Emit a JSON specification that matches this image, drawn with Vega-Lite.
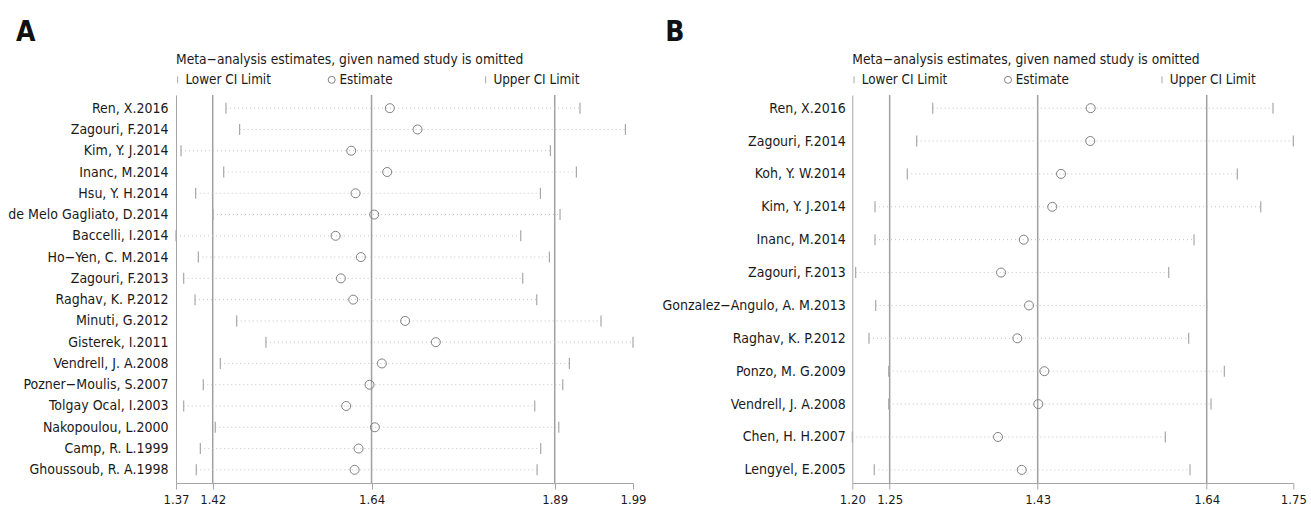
{
  "$schema": "https://vega.github.io/schema/vega-lite/v6.json",
  "background": "white",
  "padding": {"left": 7, "top": 19, "right": 5, "bottom": 0},
  "bounds": "flush",
  "spacing": 219.3,
  "config": {
    "view": {"stroke": null},
    "font": "DejaVu Sans Condensed, Liberation Sans, sans-serif",
    "axis": {"grid": false, "domainColor": "#a6a6a6", "tickColor": "#a6a6a6", "labelColor": "#1a1a1a", "labelFont": "DejaVu Sans Condensed, Liberation Sans, sans-serif", "title": null},
    "axisX": {"tickSize": 6, "labelPadding": 4, "labelFontSize": 13, "labelDx": 4, "labelFlush": false, "labelOverlap": false, "format": ".2f"},
    "axisY": {"ticks": false, "tickSize": 0, "labelFontSize": 14, "labelLimit": 400, "minExtent": 161, "maxExtent": 161},
    "title": {"fontSize": 28, "fontWeight": "bold", "anchor": "start", "frame": "group", "color": "#111111", "offset": 6, "font": "DejaVu Sans Condensed, Liberation Sans, sans-serif"},
    "legend": {"orient": "top", "direction": "horizontal", "columns": 3, "gridAlign": "all", "columnPadding": 54, "titleFontSize": 13.7, "titleFontWeight": "normal", "titleColor": "#1a1a1a", "titlePadding": 6, "labelFontSize": 13.4, "labelColor": "#1a1a1a", "labelOffset": 1, "symbolOffset": -5, "symbolSize": 49, "symbolStrokeWidth": 1, "offset": 8, "padding": 0, "titleAnchor": "start", "titleLimit": 700, "labelFont": "DejaVu Sans Condensed, Liberation Sans, sans-serif", "titleFont": "DejaVu Sans Condensed, Liberation Sans, sans-serif"}
  },
  "resolve": {"scale": {"shape": "independent", "color": "independent"}, "legend": {"shape": "independent", "color": "independent"}},
  "hconcat": [
    {
      "title": {"text": "A", "dx": -160},
      "width": 457,
      "height": 388,
      "data": {"values": [
        {"study": "Ren, X.2016", "Lower CI Limit": 1.4378, "Estimate": 1.6601, "Upper CI Limit": 1.9181},
        {"study": "Zagouri, F.2014", "Lower CI Limit": 1.4563, "Estimate": 1.6977, "Upper CI Limit": 1.9797},
        {"study": "Kim, Y. J.2014", "Lower CI Limit": 1.3768, "Estimate": 1.6077, "Upper CI Limit": 1.878},
        {"study": "Inanc, M.2014", "Lower CI Limit": 1.4347, "Estimate": 1.6565, "Upper CI Limit": 1.9132},
        {"study": "Hsu, Y. H.2014", "Lower CI Limit": 1.3967, "Estimate": 1.6136, "Upper CI Limit": 1.8644},
        {"study": "de Melo Gagliato, D.2014", "Lower CI Limit": 1.4202, "Estimate": 1.6389, "Upper CI Limit": 1.891},
        {"study": "Baccelli, I.2014", "Lower CI Limit": 1.37, "Estimate": 1.5865, "Upper CI Limit": 1.8377},
        {"study": "Ho−Yen, C. M.2014", "Lower CI Limit": 1.4003, "Estimate": 1.6208, "Upper CI Limit": 1.8766},
        {"study": "Zagouri, F.2013", "Lower CI Limit": 1.3804, "Estimate": 1.5937, "Upper CI Limit": 1.8404},
        {"study": "Raghav, K. P.2012", "Lower CI Limit": 1.3958, "Estimate": 1.6104, "Upper CI Limit": 1.8594},
        {"study": "Minuti, G.2012", "Lower CI Limit": 1.4523, "Estimate": 1.6809, "Upper CI Limit": 1.9466},
        {"study": "Gisterek, I.2011", "Lower CI Limit": 1.492, "Estimate": 1.7225, "Upper CI Limit": 1.99},
        {"study": "Vendrell, J. A.2008", "Lower CI Limit": 1.4301, "Estimate": 1.6493, "Upper CI Limit": 1.9037},
        {"study": "Pozner−Moulis, S.2007", "Lower CI Limit": 1.407, "Estimate": 1.6326, "Upper CI Limit": 1.8947},
        {"study": "Tolgay Ocal, I.2003", "Lower CI Limit": 1.3804, "Estimate": 1.6009, "Upper CI Limit": 1.8567},
        {"study": "Nakopoulou, L.2000", "Lower CI Limit": 1.4233, "Estimate": 1.6398, "Upper CI Limit": 1.8893},
        {"study": "Camp, R. L.1999", "Lower CI Limit": 1.403, "Estimate": 1.6177, "Upper CI Limit": 1.8648},
        {"study": "Ghoussoub, R. A.1998", "Lower CI Limit": 1.3975, "Estimate": 1.6123, "Upper CI Limit": 1.8599}
      ]},
      "layer": [
        {
          "data": {"values": [{"ref": 1.4198}, {"ref": 1.6353}, {"ref": 1.8838}]},
          "mark": {"type": "rule", "color": "#a0a0a0", "strokeWidth": 1.5},
          "encoding": {
            "x": {"field": "ref", "type": "quantitative", "scale": {"domain": [1.37, 1.99], "nice": false, "zero": false},
                  "axis": {"values": [1.37, 1.4198, 1.6353, 1.8838, 1.99], "labelExpr": "datum.value > 1.87 && datum.value < 1.9 ? '1.89' : format(datum.value, '.2f')"}}
          }
        },
        {
          "mark": {"type": "rule", "color": "#c4c4c4", "strokeDash": [1, 3], "strokeWidth": 1},
          "encoding": {
            "y": {"field": "study", "type": "nominal", "scale": {"type": "point", "padding": 0.62, "domain": ["Ren, X.2016", "Zagouri, F.2014", "Kim, Y. J.2014", "Inanc, M.2014", "Hsu, Y. H.2014", "de Melo Gagliato, D.2014", "Baccelli, I.2014", "Ho−Yen, C. M.2014", "Zagouri, F.2013", "Raghav, K. P.2012", "Minuti, G.2012", "Gisterek, I.2011", "Vendrell, J. A.2008", "Pozner−Moulis, S.2007", "Tolgay Ocal, I.2003", "Nakopoulou, L.2000", "Camp, R. L.1999", "Ghoussoub, R. A.1998"]}, "axis": {"labelPadding": 8}},
            "x": {"field": "Lower CI Limit", "type": "quantitative"},
            "x2": {"field": "Upper CI Limit"}
          }
        },
        {
          "transform": [{"fold": ["Lower CI Limit", "Upper CI Limit"]}],
          "mark": {"type": "point", "filled": false, "size": 121, "strokeWidth": 1.2, "opacity": 1},
          "encoding": {
            "y": {"field": "study", "type": "nominal"},
            "x": {"field": "value", "type": "quantitative"},
            "shape": {"field": "key", "type": "nominal", "scale": {"domain": ["Lower CI Limit", "Estimate", "Upper CI Limit"], "range": ["M0,-1L0,1", "circle", "M0,-1L0,1"]}, "legend": {"title": "Meta−analysis estimates, given named study is omitted"}},
            "color": {"field": "key", "type": "nominal", "scale": {"domain": ["Lower CI Limit", "Estimate", "Upper CI Limit"], "range": ["#a8a8a8", "#808080", "#a8a8a8"]}, "legend": {"title": "Meta−analysis estimates, given named study is omitted"}}
          }
        },
        {
          "transform": [{"fold": ["Estimate"]}],
          "mark": {"type": "point", "filled": false, "size": 81, "strokeWidth": 1, "opacity": 1},
          "encoding": {
            "y": {"field": "study", "type": "nominal"},
            "x": {"field": "value", "type": "quantitative"},
            "shape": {"field": "key", "type": "nominal"},
            "color": {"field": "key", "type": "nominal"}
          }
        }
      ]
    },
    {
      "title": {"text": "B", "dx": -187},
      "width": 441,
      "height": 388,
      "data": {"values": [
        {"study": "Ren, X.2016", "Lower CI Limit": 1.3003, "Estimate": 1.4973, "Upper CI Limit": 1.7247},
        {"study": "Zagouri, F.2014", "Lower CI Limit": 1.2803, "Estimate": 1.4968, "Upper CI Limit": 1.75},
        {"study": "Koh, Y. W.2014", "Lower CI Limit": 1.2686, "Estimate": 1.4603, "Upper CI Limit": 1.6802},
        {"study": "Kim, Y. J.2014", "Lower CI Limit": 1.2283, "Estimate": 1.4494, "Upper CI Limit": 1.7094},
        {"study": "Inanc, M.2014", "Lower CI Limit": 1.2283, "Estimate": 1.4138, "Upper CI Limit": 1.6262},
        {"study": "Zagouri, F.2013", "Lower CI Limit": 1.2042, "Estimate": 1.3855, "Upper CI Limit": 1.5946},
        {"study": "Gonzalez−Angulo, A. M.2013", "Lower CI Limit": 1.2292, "Estimate": 1.4204, "Upper CI Limit": 1.642},
        {"study": "Raghav, K. P.2012", "Lower CI Limit": 1.2208, "Estimate": 1.4058, "Upper CI Limit": 1.6195},
        {"study": "Ponzo, M. G.2009", "Lower CI Limit": 1.2454, "Estimate": 1.4395, "Upper CI Limit": 1.664},
        {"study": "Vendrell, J. A.2008", "Lower CI Limit": 1.2454, "Estimate": 1.432, "Upper CI Limit": 1.6474},
        {"study": "Chen, H. H.2007", "Lower CI Limit": 1.2, "Estimate": 1.3817, "Upper CI Limit": 1.5904},
        {"study": "Lengyel, E.2005", "Lower CI Limit": 1.2274, "Estimate": 1.4113, "Upper CI Limit": 1.6212}
      ]},
      "layer": [
        {
          "data": {"values": [{"ref": 1.2466}, {"ref": 1.4312}, {"ref": 1.642}]},
          "mark": {"type": "rule", "color": "#a0a0a0", "strokeWidth": 1.5},
          "encoding": {
            "x": {"field": "ref", "type": "quantitative", "scale": {"domain": [1.2, 1.75], "nice": false, "zero": false},
                  "axis": {"values": [1.2, 1.2466, 1.4312, 1.642, 1.75]}}
          }
        },
        {
          "mark": {"type": "rule", "color": "#c4c4c4", "strokeDash": [1, 3], "strokeWidth": 1},
          "encoding": {
            "y": {"field": "study", "type": "nominal", "scale": {"type": "point", "padding": 0.4, "domain": ["Ren, X.2016", "Zagouri, F.2014", "Koh, Y. W.2014", "Kim, Y. J.2014", "Inanc, M.2014", "Zagouri, F.2013", "Gonzalez−Angulo, A. M.2013", "Raghav, K. P.2012", "Ponzo, M. G.2009", "Vendrell, J. A.2008", "Chen, H. H.2007", "Lengyel, E.2005"]}, "axis": {"labelPadding": 7}},
            "x": {"field": "Lower CI Limit", "type": "quantitative"},
            "x2": {"field": "Upper CI Limit"}
          }
        },
        {
          "transform": [{"fold": ["Lower CI Limit", "Upper CI Limit"]}],
          "mark": {"type": "point", "filled": false, "size": 121, "strokeWidth": 1.2, "opacity": 1},
          "encoding": {
            "y": {"field": "study", "type": "nominal"},
            "x": {"field": "value", "type": "quantitative"},
            "shape": {"field": "key", "type": "nominal", "scale": {"domain": ["Lower CI Limit", "Estimate", "Upper CI Limit"], "range": ["M0,-1L0,1", "circle", "M0,-1L0,1"]}, "legend": {"title": "Meta−analysis estimates, given named study is omitted"}},
            "color": {"field": "key", "type": "nominal", "scale": {"domain": ["Lower CI Limit", "Estimate", "Upper CI Limit"], "range": ["#a8a8a8", "#808080", "#a8a8a8"]}, "legend": {"title": "Meta−analysis estimates, given named study is omitted"}}
          }
        },
        {
          "transform": [{"fold": ["Estimate"]}],
          "mark": {"type": "point", "filled": false, "size": 81, "strokeWidth": 1, "opacity": 1},
          "encoding": {
            "y": {"field": "study", "type": "nominal"},
            "x": {"field": "value", "type": "quantitative"},
            "shape": {"field": "key", "type": "nominal"},
            "color": {"field": "key", "type": "nominal"}
          }
        }
      ]
    }
  ]
}
